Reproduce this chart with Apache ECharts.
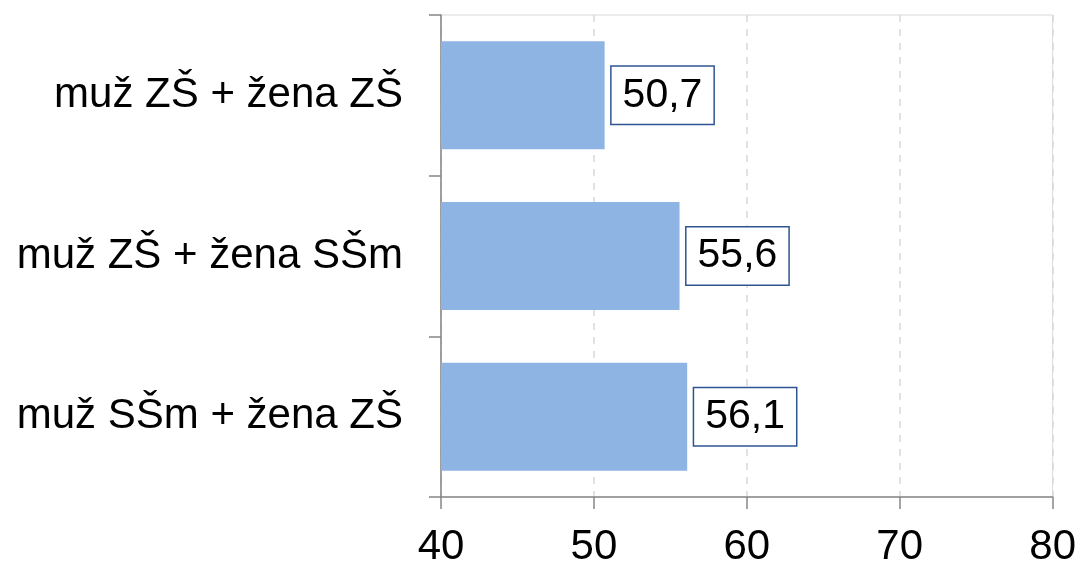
<!DOCTYPE html>
<html>
<head>
<meta charset="utf-8">
<script src="https://cdn.jsdelivr.net/npm/echarts@6/dist/echarts.min.js"></script>
<style>
  html, body { margin: 0; padding: 0; background: #fff; }
  #chart { width: 1079px; height: 568px; }
</style>
</head>
<body>
<div id="chart"></div>
<script>
  // categories from top to bottom
  var categories = ["muž ZŠ + žena ZŠ", "muž ZŠ + žena SŠm", "muž SŠm + žena ZŠ"];
  var values = [50.7, 55.6, 56.1];
  var xTicks = [40, 50, 60, 70, 80];

  var chart = echarts.init(document.getElementById("chart"));

  var option = {
    animation: false,
    textStyle: { fontFamily: "Liberation Sans, Arial, sans-serif" },
    grid: {
      left: 441,
      right: 26,
      top: 15,
      bottom: 70,
      show: true,
      borderColor: "#d9d9d9",
      borderWidth: 1
    },
    xAxis: {
      type: "value",
      min: xTicks[0],
      max: xTicks[xTicks.length - 1],
      interval: 10,
      axisLine: { show: true, lineStyle: { color: "#868686", width: 1.5 } },
      axisTick: { show: true, length: 12, lineStyle: { color: "#868686", width: 1.5 } },
      axisLabel: { color: "#000", fontSize: 42, margin: 29 },
      splitLine: { show: true, lineStyle: { color: "#d9d9d9", type: [7, 7], width: 1.5 } }
    },
    yAxis: {
      type: "category",
      data: categories,
      inverse: true,
      axisLine: { show: true, lineStyle: { color: "#868686", width: 1.5 } },
      axisTick: { show: true, length: 12, lineStyle: { color: "#868686", width: 1.5 } },
      axisLabel: { color: "#000", fontSize: 42, margin: 38 },
      splitLine: { show: false }
    },
    series: [
      {
        type: "bar",
        data: values,
        barWidth: 108,
        itemStyle: { color: "#8eb4e3" },
        label: {
          show: true,
          position: "right",
          distance: 7,
          color: "#000",
          fontSize: 41,
          lineHeight: 41,
          backgroundColor: "#fff",
          borderColor: "#2e5592",
          borderWidth: 1.5,
          padding: [9, 11, 7, 11],
          formatter: function (p) {
            return String(p.value).replace(".", ",");
          }
        }
      }
    ]
  };

  chart.setOption(option);
</script>
</body>
</html>
